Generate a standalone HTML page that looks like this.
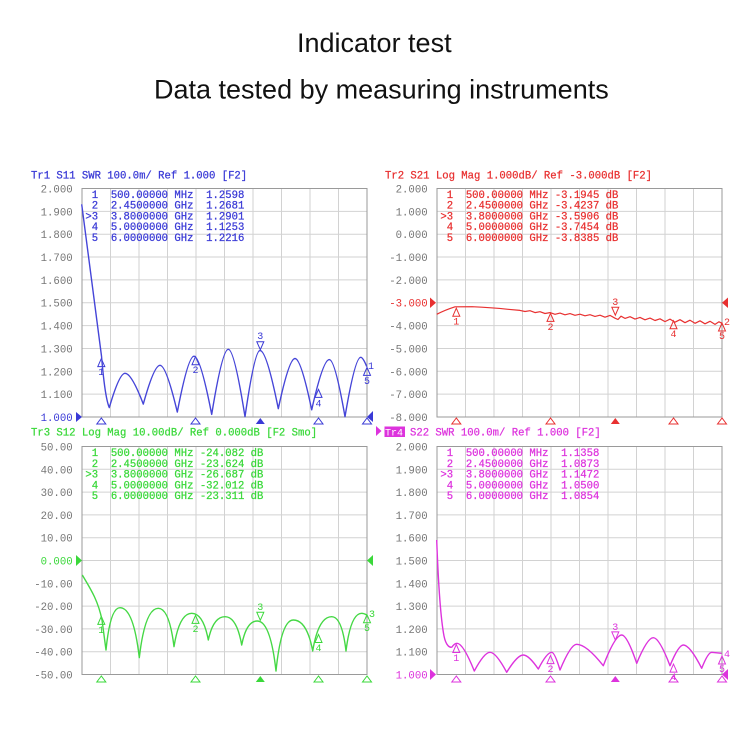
<!DOCTYPE html>
<html><head><meta charset="utf-8"><style>
html,body{margin:0;padding:0;background:#fff;}
svg{display:block;}
.t{font-family:"Liberation Mono",monospace;font-size:10.6px;white-space:pre;stroke-width:0.25;}
.ax{font-family:"Liberation Mono",monospace;font-size:10.7px;fill:#767676;text-anchor:end;}
.ttl{font-family:"Liberation Sans",Arial,sans-serif;font-size:27px;fill:#111;}
.g{stroke:#d2d2d2;stroke-width:1;fill:none;}
.bd{stroke:#9a9a9a;stroke-width:1;fill:none;}
.mk{font-family:"Liberation Mono",monospace;font-size:10px;text-anchor:middle;}
</style></head><body>
<svg width="750" height="750" viewBox="0 0 750 750" xmlns="http://www.w3.org/2000/svg">
<rect width="750" height="750" fill="#fff"/>
<text class="ttl" x="297" y="52">Indicator test</text>
<text class="ttl" x="154" y="98.5">Data tested by measuring instruments</text>

<!-- GRIDS -->
<g class="g">
<path d="M110.5,188.5V417M139,188.5V417M167.5,188.5V417M196,188.5V417M224.5,188.5V417M253,188.5V417M281.5,188.5V417M310,188.5V417M338.5,188.5V417
M82,211.35H367M82,234.2H367M82,257.05H367M82,279.9H367M82,302.75H367M82,325.6H367M82,348.45H367M82,371.3H367M82,394.15H367"/>
<path d="M465.5,188.5V417M494,188.5V417M522.5,188.5V417M551,188.5V417M579.5,188.5V417M608,188.5V417M636.5,188.5V417M665,188.5V417M693.5,188.5V417
M437,211.35H722M437,234.2H722M437,257.05H722M437,279.9H722M437,302.75H722M437,325.6H722M437,348.45H722M437,371.3H722M437,394.15H722"/>
<path d="M110.5,446.5V674.5M139,446.5V674.5M167.5,446.5V674.5M196,446.5V674.5M224.5,446.5V674.5M253,446.5V674.5M281.5,446.5V674.5M310,446.5V674.5M338.5,446.5V674.5
M82,469.3H367M82,492.1H367M82,514.9H367M82,537.7H367M82,560.5H367M82,583.3H367M82,606.1H367M82,628.9H367M82,651.7H367"/>
<path d="M465.5,446.5V674.5M494,446.5V674.5M522.5,446.5V674.5M551,446.5V674.5M579.5,446.5V674.5M608,446.5V674.5M636.5,446.5V674.5M665,446.5V674.5M693.5,446.5V674.5
M437,469.3H722M437,492.1H722M437,514.9H722M437,537.7H722M437,560.5H722M437,583.3H722M437,606.1H722M437,628.9H722M437,651.7H722"/>
</g>
<g class="bd">
<rect x="82" y="188.5" width="285" height="228.5"/>
<rect x="437" y="188.5" width="285" height="228.5"/>
<rect x="82" y="446.5" width="285" height="228"/>
<rect x="437" y="446.5" width="285" height="228"/>
</g>

<!-- AXIS LABELS -->
<g class="ax">
<text x="72.7" y="192.5">2.000</text><text x="72.7" y="215.3">1.900</text><text x="72.7" y="238.2">1.800</text><text x="72.7" y="261">1.700</text><text x="72.7" y="283.9">1.600</text><text x="72.7" y="306.7">1.500</text><text x="72.7" y="329.6">1.400</text><text x="72.7" y="352.4">1.300</text><text x="72.7" y="375.3">1.200</text><text x="72.7" y="398.1">1.100</text><text x="72.7" y="421" style="fill:#3a3ad6">1.000</text>
<text x="427.7" y="192.5">2.000</text><text x="427.7" y="215.3">1.000</text><text x="427.7" y="238.2">0.000</text><text x="427.7" y="261">-1.000</text><text x="427.7" y="283.9">-2.000</text><text x="427.7" y="306.7" style="fill:#e83030">-3.000</text><text x="427.7" y="329.6">-4.000</text><text x="427.7" y="352.4">-5.000</text><text x="427.7" y="375.3">-6.000</text><text x="427.7" y="398.1">-7.000</text><text x="427.7" y="421">-8.000</text>
<text x="72.7" y="450.5">50.00</text><text x="72.7" y="473.3">40.00</text><text x="72.7" y="496.1">30.00</text><text x="72.7" y="518.9">20.00</text><text x="72.7" y="541.7">10.00</text><text x="72.7" y="564.5" style="fill:#3ad83a">0.000</text><text x="72.7" y="587.3">-10.00</text><text x="72.7" y="610.1">-20.00</text><text x="72.7" y="632.9">-30.00</text><text x="72.7" y="655.7">-40.00</text><text x="72.7" y="678.5">-50.00</text>
<text x="427.7" y="450.5">2.000</text><text x="427.7" y="473.3">1.900</text><text x="427.7" y="496.1">1.800</text><text x="427.7" y="518.9">1.700</text><text x="427.7" y="541.7">1.600</text><text x="427.7" y="564.5">1.500</text><text x="427.7" y="587.3">1.400</text><text x="427.7" y="610.1">1.300</text><text x="427.7" y="632.9">1.200</text><text x="427.7" y="655.7">1.100</text><text x="427.7" y="678.5" style="fill:#dd33dd">1.000</text>
</g>

<!-- PANEL 1 (blue) -->
<g fill="#3a3ad6" stroke="#3a3ad6">
<text class="t" x="31" y="178.5">Tr1 S11 SWR 100.0m/ Ref 1.000 [F2]</text>
<text class="t" x="85.4" y="198">&#160;1  500.00000 MHz  1.2598</text>
<text class="t" x="85.4" y="208.7">&#160;2  2.4500000 GHz  1.2681</text>
<text class="t" x="85.4" y="219.4">&gt;3  3.8000000 GHz  1.2901</text>
<text class="t" x="85.4" y="230.1">&#160;4  5.0000000 GHz  1.1253</text>
<text class="t" x="85.4" y="240.8">&#160;5  6.0000000 GHz  1.2216</text>
</g>
<g fill="#3a3ad6">
<polygon points="76,412 76,422 82,417"/>
<polygon points="367,417 373,411 373,422"/>
<polygon points="260.3,418 255.8,424 264.8,424"/>
</g>
<g fill="none" stroke="#3a3ad6" stroke-width="1">
<polygon points="101.3,418 96.8,424 105.8,424"/>
<polygon points="195.5,418 191,424 200,424"/>
<polygon points="318.5,418 314,424 323,424"/>
<polygon points="367,418 362.5,424 371.5,424"/>
<polygon points="101.3,358.6 97.8,366.6 104.8,366.6"/>
<polygon points="195.5,356.7 192,364.7 199,364.7"/>
<polygon points="260.3,349.7 256.8,341.7 263.8,341.7"/>
<polygon points="318.5,389.4 315,397.4 322,397.4"/>
<polygon points="367,367.4 363.5,375.4 370.5,375.4"/>
</g>
<g fill="#3a3ad6">
<text class="mk" x="101.3" y="375">1</text>
<text class="mk" x="195.5" y="373">2</text>
<text class="mk" x="260.3" y="339">3</text>
<text class="mk" x="318.5" y="406.5">4</text>
<text class="mk" x="367" y="384">5</text>
<text class="mk" x="371" y="369">1</text>
</g>
<path fill="none" stroke="#4545d8" stroke-width="1.4" stroke-linejoin="round" d="M81.7,204.3 L101.5,356 Q105,398 109.3,407.6
Q119.3,373.3 125,373.3 Q131.6,373.3 143.3,404.1
Q154,365.3 160,365.3 Q166.2,365.3 177.3,412.1
Q188,356.2 194,356.2 Q200.4,356.2 211.7,414.4
Q222.3,349.3 228.3,349.3 Q234.3,349.3 245,416.7
Q254.6,350.5 260,350.5 Q266.6,350.5 278.3,408.7
Q289,358.5 295,358.5 Q301,358.5 311.7,409.8
Q323,359.6 329.3,359.6 Q335,359.6 345,416.7
Q355,357.3 360.7,357.3 Q363,357.3 366.7,366.5"/>

<!-- PANEL 2 (red) -->
<g fill="#e83030" stroke="#e83030">
<text class="t" x="385" y="178.5">Tr2 S21 Log Mag 1.000dB/ Ref -3.000dB [F2]</text>
<text class="t" x="440.4" y="198">&#160;1  500.00000 MHz -3.1945 dB</text>
<text class="t" x="440.4" y="208.7">&#160;2  2.4500000 GHz -3.4237 dB</text>
<text class="t" x="440.4" y="219.4">&gt;3  3.8000000 GHz -3.5906 dB</text>
<text class="t" x="440.4" y="230.1">&#160;4  5.0000000 GHz -3.7454 dB</text>
<text class="t" x="440.4" y="240.8">&#160;5  6.0000000 GHz -3.8385 dB</text>
</g>
<g fill="#e83030">
<polygon points="430,297.5 430,308 436,302.75"/>
<polygon points="722,302.75 728,297.5 728,308"/>
<polygon points="615.3,418 610.8,424 619.8,424"/>
</g>
<g fill="none" stroke="#e83030" stroke-width="1">
<polygon points="456.3,418 451.8,424 460.8,424"/>
<polygon points="550.5,418 546,424 555,424"/>
<polygon points="673.5,418 669,424 678,424"/>
<polygon points="722,418 717.5,424 726.5,424"/>
<polygon points="456.3,308.2 452.8,316.2 459.8,316.2"/>
<polygon points="550.5,313.4 547,321.4 554,321.4"/>
<polygon points="615.3,315.2 611.8,307.2 618.8,307.2"/>
<polygon points="673.5,320.8 670,328.8 677,328.8"/>
<polygon points="722,323 718.5,331 725.5,331"/>
</g>
<g fill="#e83030">
<text class="mk" x="456.3" y="324.5">1</text>
<text class="mk" x="550.5" y="330">2</text>
<text class="mk" x="615.3" y="305">3</text>
<text class="mk" x="673.5" y="337">4</text>
<text class="mk" x="722" y="339">5</text>
<text class="mk" x="727" y="325">2</text>
</g>
<path fill="none" stroke="#e83030" stroke-width="1.2" stroke-linejoin="round" d="M436.7,314.3 Q445,310 455,306.8 L472,306.7 Q492,307.6 508,309.3 L520,310.4 L525,311.5 L530,310.7 L535,312.6 L540,311.7 L545,313.5 L550,312.6 L555,314.3 L560,313.1 L565,314.8 L570,313.6 L575,315.3 L580,314.2 L585,315.8 L590,314.7 L595,316.4 L600,315.2 L605,317.2 L610,315.4 L615,318.2 L618,319.5 L621,316.2 L625,318.4 L630,316.7 L635,319.1 L640,317.4 L645,319.8 L650,318.1 L655,320.5 L660,318.8 L665,321.6 L670,319.1 L675,322.2 L680,319.7 L685,322.7 L690,320.2 L695,323.3 L700,320.8 L705,323.8 L710,321.3 L715,324.4 L719,321.8 L722,323.3"/>

<!-- PANEL 3 (green) -->
<g fill="#3ad83a" stroke="#3ad83a">
<text class="t" x="31" y="435.5">Tr3 S12 Log Mag 10.00dB/ Ref 0.000dB [F2 Smo]</text>
<text class="t" x="85.4" y="456.2">&#160;1  500.00000 MHz -24.082 dB</text>
<text class="t" x="85.4" y="466.9">&#160;2  2.4500000 GHz -23.624 dB</text>
<text class="t" x="85.4" y="477.6">&gt;3  3.8000000 GHz -26.687 dB</text>
<text class="t" x="85.4" y="488.3">&#160;4  5.0000000 GHz -32.012 dB</text>
<text class="t" x="85.4" y="499">&#160;5  6.0000000 GHz -23.311 dB</text>
</g>
<g fill="#3ad83a">
<polygon points="76,555 76,566 82,560.5"/>
<polygon points="367,560.5 373,555 373,566"/>
<polygon points="260.3,676 255.8,682 264.8,682"/>
</g>
<g fill="none" stroke="#3ad83a" stroke-width="1">
<polygon points="101.3,676 96.8,682 105.8,682"/>
<polygon points="195.5,676 191,682 200,682"/>
<polygon points="318.5,676 314,682 323,682"/>
<polygon points="367,676 362.5,682 371.5,682"/>
<polygon points="101.3,616.4 97.8,624.4 104.8,624.4"/>
<polygon points="195.5,615.4 192,623.4 199,623.4"/>
<polygon points="260.3,620.3 256.8,612.3 263.8,612.3"/>
<polygon points="318.5,634.5 315,642.5 322,642.5"/>
<polygon points="367,614.7 363.5,622.7 370.5,622.7"/>
</g>
<g fill="#3ad83a">
<text class="mk" x="101.3" y="633">1</text>
<text class="mk" x="195.5" y="632">2</text>
<text class="mk" x="260.3" y="610">3</text>
<text class="mk" x="318.5" y="651">4</text>
<text class="mk" x="367" y="631">5</text>
<text class="mk" x="372" y="617">3</text>
</g>
<path fill="none" stroke="#45d845" stroke-width="1.4" stroke-linejoin="round" d="M82.3,575 C90,588 98,600 102,620 L106,650
Q110.2,607.7 120,607.7 Q133.5,607.7 139.3,657.7
Q145,608.3 158.3,608.3 Q169.3,608.3 174,646.7
Q179.3,613.3 191.7,613.3 Q203.3,613.3 208.3,640
Q213.3,616.7 225,616.7 Q236.7,616.7 241.7,645
Q246.4,621 257.3,621 Q270.4,621 276,671
Q281.2,620 293.3,620 Q306.9,620 312.7,651
Q318.4,616.7 331.7,616.7 Q342,616.7 346,651
Q350.7,613.3 361.7,613.3 Q364,613.3 366.7,615"/>

<!-- PANEL 4 (magenta) -->
<g fill="#dd33dd">
<polygon points="376,426 376,436 381.5,431"/>
<rect x="384.5" y="426.5" width="20.5" height="10.5"/>
</g>
<g fill="#dd33dd" stroke="#dd33dd">
<text class="t" x="410" y="435.5">S22 SWR 100.0m/ Ref 1.000 [F2]</text>
<text class="t" x="440.4" y="456.2">&#160;1  500.00000 MHz  1.1358</text>
<text class="t" x="440.4" y="466.9">&#160;2  2.4500000 GHz  1.0873</text>
<text class="t" x="440.4" y="477.6">&gt;3  3.8000000 GHz  1.1472</text>
<text class="t" x="440.4" y="488.3">&#160;4  5.0000000 GHz  1.0500</text>
<text class="t" x="440.4" y="499">&#160;5  6.0000000 GHz  1.0854</text>
</g>
<g fill="#dd33dd">
<polygon points="430,669 430,680 436,674.5"/>
<polygon points="722,674.5 728,669 728,680"/>
<polygon points="615.3,676 610.8,682 619.8,682"/>
</g>
<text class="t" x="385" y="435.5" fill="#fff" style="font-size:10px">Tr4</text>
<g fill="none" stroke="#dd33dd" stroke-width="1">
<polygon points="456.3,676 451.8,682 460.8,682"/>
<polygon points="550.5,676 546,682 555,682"/>
<polygon points="673.5,676 669,682 678,682"/>
<polygon points="722,676 717.5,682 726.5,682"/>
<polygon points="456.3,644.5 452.8,652.5 459.8,652.5"/>
<polygon points="550.5,655.6 547,663.6 554,663.6"/>
<polygon points="615.3,639.9 611.8,631.9 618.8,631.9"/>
<polygon points="673.5,664.1 670,672.1 677,672.1"/>
<polygon points="722,656 718.5,664 725.5,664"/>
</g>
<g fill="#dd33dd">
<text class="mk" x="456.3" y="661">1</text>
<text class="mk" x="550.5" y="672">2</text>
<text class="mk" x="615.3" y="630">3</text>
<text class="mk" x="673.5" y="680">4</text>
<text class="mk" x="722" y="672">5</text>
<text class="mk" x="727" y="657">4</text>
</g>
<path fill="none" stroke="#dd33dd" stroke-width="1.4" stroke-linejoin="round" d="M436.7,540 C438,575 440,615 444,636 C446,646 450,648 452,647 Q454.5,643.3 457,643.3
Q463.2,643.3 474.3,671
Q484.3,652.3 490,652.3 Q496,652.3 506.7,672.3
Q517.3,655 523.3,655 Q528.7,655 538.3,669
Q546.9,652.3 551.7,652.3 Q554.7,652.3 560,670
Q570.7,644.3 576.7,644.3 Q586.3,644.3 603.3,665.7
Q615.1,635 621.7,635 Q627.1,635 636.7,663.3
Q647.3,637.7 653.3,637.7 Q659.3,637.7 670,665.7
Q678.5,645 683.3,645 Q689.9,645 701.7,668.3
Q708,652.3 711.7,652.3 L721.7,653.3"/>
</svg>
</body></html>
